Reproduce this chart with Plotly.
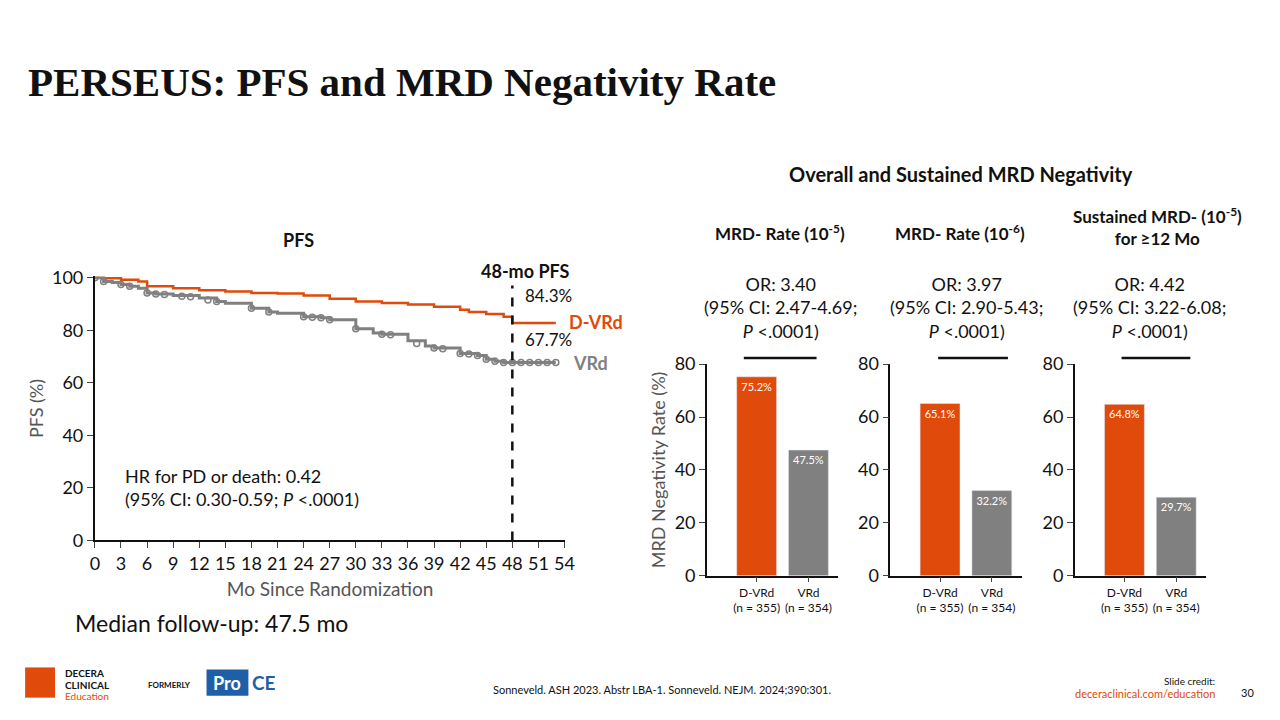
import plotly.graph_objects as go

months_dvrd = [0, 1, 3, 5, 6, 9, 12, 15, 18, 21, 24, 27, 30, 33, 36, 39, 42, 43, 45, 47, 48, 53]
pfs_dvrd = [100, 99.8, 99.2, 98.6, 96.8, 96.0, 95.2, 94.8, 94.2, 94.0, 93.2, 92.0, 91.0, 90.4, 89.8, 89.0, 87.8, 87.0, 86.2, 85.2, 82.8, 82.8]
months_vrd = [0, 1, 2, 3, 4, 5, 6, 7, 9, 12, 14, 15, 18, 20, 21, 24, 26, 27, 30, 32, 33, 36, 38, 39, 42, 44, 45, 46, 47, 48, 53]
pfs_vrd = [100, 98.6, 98.2, 97.4, 96.8, 96.0, 94.2, 93.8, 93.2, 92.3, 91.0, 90.3, 88.4, 87.0, 86.5, 85.2, 84.8, 84.0, 80.6, 79.0, 78.5, 76.0, 74.0, 73.3, 71.2, 70.4, 69.0, 68.2, 67.7, 67.7, 67.7]
cens_m = [0, 1, 3, 4, 6, 7, 8, 10, 11, 13, 14, 18, 20, 24, 25, 26, 27, 30, 33, 34, 37, 39, 40, 42, 43, 44, 45, 46, 47, 48, 49, 50, 51, 52, 53]
cens_v = [100, 98.6, 97.4, 96.8, 94.2, 93.8, 93.6, 93.0, 92.8, 91.5, 91.0, 88.4, 87.0, 85.2, 85.0, 84.8, 84.0, 80.6, 78.5, 78.3, 75.0, 73.3, 73.0, 71.2, 71.0, 70.4, 69.0, 68.2, 67.7, 67.7, 67.7, 67.7, 67.7, 67.7, 67.7]
pfs_ticks = list(range(0, 55, 3))

arms = ["D-VRd", "VRd"]
arm_labels = ["D-VRd<br>(n = 355)", "VRd<br>(n = 354)"]
mrd_titles = ["MRD- Rate (10<sup>-5</sup>)", "MRD- Rate (10<sup>-6</sup>)", "Sustained MRD- (10<sup>-5</sup>)<br>for ≥12 Mo"]
mrd_vals = [[75.2, 47.5], [65.1, 32.2], [64.8, 29.7]]
ors = ["OR: 3.40<br>(95% CI: 2.47-4.69;<br><i>P</i> <.0001)",
       "OR: 3.97<br>(95% CI: 2.90-5.43;<br><i>P</i> <.0001)",
       "OR: 4.42<br>(95% CI: 3.22-6.08;<br><i>P</i> <.0001)"]

ORANGE = "#E04A0A"; GREY = "#808080"
W, H = 1280, 720
# compensation for observed rendering offset/scale
def px(x): return ((x - 3.8) / 0.9915) / W
def py(y): return 1 - ((y - 15.6) / 0.962) / H

fig = go.Figure()
fig.add_trace(go.Scatter(x=months_dvrd, y=pfs_dvrd, mode="lines", line=dict(color=ORANGE, width=2.5, shape="hv"), xaxis="x", yaxis="y"))
fig.add_trace(go.Scatter(x=months_vrd, y=pfs_vrd, mode="lines", line=dict(color=GREY, width=3, shape="hv"), xaxis="x", yaxis="y"))
fig.add_trace(go.Scatter(x=cens_m, y=cens_v, mode="markers", marker=dict(symbol="circle-open", color=GREY, size=6, line=dict(width=1.5)), xaxis="x", yaxis="y"))

layout = dict(
    width=W, height=H, autosize=False, margin=dict(l=0, r=0, t=0, b=0), showlegend=False,
    plot_bgcolor="white", paper_bgcolor="white", font=dict(family="Lato", color="#111"),
    xaxis=dict(domain=[px(94), px(566)], range=[0, 54.1], tickvals=pfs_ticks, ticks="outside", ticklen=6,
               showline=True, linecolor="#111", linewidth=2, showgrid=False, zeroline=False,
               tickfont=dict(size=18), title=dict(text="Mo Since Randomization", font=dict(size=19, color="#555"), standoff=10)),
    yaxis=dict(domain=[py(540), py(278)], range=[0, 100.5], tickvals=[0, 20, 40, 60, 80, 100], ticks="outside", ticklen=6,
               showline=True, linecolor="#111", linewidth=2, showgrid=False, zeroline=False,
               tickfont=dict(size=18), title=dict(text="PFS (%)", font=dict(size=18, color="#555"), standoff=4)),
)
doms = [(708, 840), (892, 1024), (1077, 1209)]
for i in range(3):
    xa = "x%d" % (i + 2); ya = "y%d" % (i + 2)
    fig.add_trace(go.Bar(x=[0, 1], y=mrd_vals[i], marker=dict(color=[ORANGE, GREY]), width=0.77,
                         text=["%.1f%%" % v for v in mrd_vals[i]], textposition="inside", insidetextanchor="end",
                         textfont=dict(color="white", size=11), xaxis=xa, yaxis=ya))
    layout["xaxis%d" % (i + 2)] = dict(domain=[px(doms[i][0]), px(doms[i][1])], range=[-0.96, 1.58], tickvals=[0, 1],
                                        ticktext=arm_labels, ticks="outside", ticklen=5, showline=True, linecolor="#111",
                                        linewidth=1.5, showgrid=False, zeroline=False, tickfont=dict(size=12), anchor=ya)
    layout["yaxis%d" % (i + 2)] = dict(domain=[py(575), py(365)], range=[0, 80], tickvals=[0, 20, 40, 60, 80], ticks="outside",
                                        ticklen=6, showline=True, linecolor="#111", linewidth=1.5, showgrid=False,
                                        zeroline=False, tickfont=dict(size=18), anchor=xa,
                                        title=dict(text="MRD Negativity Rate (%)" if i == 0 else "", font=dict(size=18, color="#555"), standoff=4))
fig.update_layout(**layout)

ann = []
def T(x, y, text, size, color="#111", xa="left", ya="middle", family="Lato", align="left"):
    ann.append(dict(x=px(x), y=py(y), xref="paper", yref="paper", text=text, showarrow=False, xanchor=xa, yanchor=ya,
                    font=dict(size=size, color=color, family=family), align=align))
T(25, 85, "<b>PERSEUS: PFS and MRD Negativity Rate</b>", 41, family="Liberation Serif")
T(298, 242, "<b>PFS</b>", 18, xa="center")
T(526, 273, "<b>48-mo PFS</b>", 18, xa="center")
T(523, 297, "84.3%", 17)
T(523, 341, "67.7%", 17)
T(568, 323, "<b>D-VRd</b>", 18, color=ORANGE)
T(572, 364, "<b>VRd</b>", 18, color=GREY)
T(122, 487, "HR for PD or death: 0.42<br>(95% CI: 0.30-0.59; <i>P</i> <.0001)", 18)
T(72, 622, "Median follow-up: 47.5 mo", 23)
T(963, 176, "<b>Overall and Sustained MRD Negativity</b>", 20, xa="center")
for i, (cx, cy) in enumerate([(781, 234), (962, 234), (1160, 228)]):
    T(cx, cy, "<b>" + mrd_titles[i] + "</b>", 17, xa="center", align="center")
for i, cx in enumerate([782, 968, 1152]):
    T(cx, 309, ors[i], 18, xa="center", align="center")
T(663, 688, "Sonneveld. ASH 2023. Abstr LBA-1. Sonneveld. NEJM. 2024;390:301.", 11, xa="center")
T(1220, 679, "Slide credit:", 10, xa="right")
T(1220, 692, "deceraclinical.com/education", 11, color=ORANGE, xa="right")
T(1250, 691, "30", 11, xa="center")
T(62, 672, "<b>DECERA</b>", 10)
T(62, 683, "<b>CLINICAL</b>", 10)
T(62, 694, "Education", 10, color=ORANGE)
T(145, 683, "<b>FORMERLY</b>", 8)
T(227, 681, "<b>Pro</b>", 18, color="white", xa="center")
T(264, 681, "<b>CE</b>", 19, color="#1F5FA8", xa="center")
fig.update_layout(annotations=ann)

shapes = [
    dict(type="line", xref="x", yref="y", x0=48, x1=48, y0=0, y1=97, line=dict(color="#111", width=2.5, dash="dash")),
    dict(type="rect", xref="paper", yref="paper", x0=px(206), x1=px(248), y0=py(694), y1=py(668), fillcolor="#1F5FA8", line=dict(width=0)),
    dict(type="rect", xref="paper", yref="paper", x0=px(24), x1=px(54), y0=py(696), y1=py(666), fillcolor=ORANGE, line=dict(width=0)),
]
for x0, x1 in [(745, 818), (940, 1010), (1124, 1193)]:
    shapes.append(dict(type="line", xref="paper", yref="paper", x0=px(x0), x1=px(x1), y0=py(359), y1=py(359), line=dict(color="#111", width=2.5)))
fig.update_layout(shapes=shapes)
fig.write_html("out.html", config={"responsive": False, "displayModeBar": False},
               default_width="1280px", default_height="720px",
               post_script="document.body.style.margin='0';document.body.style.overflow='hidden';")
